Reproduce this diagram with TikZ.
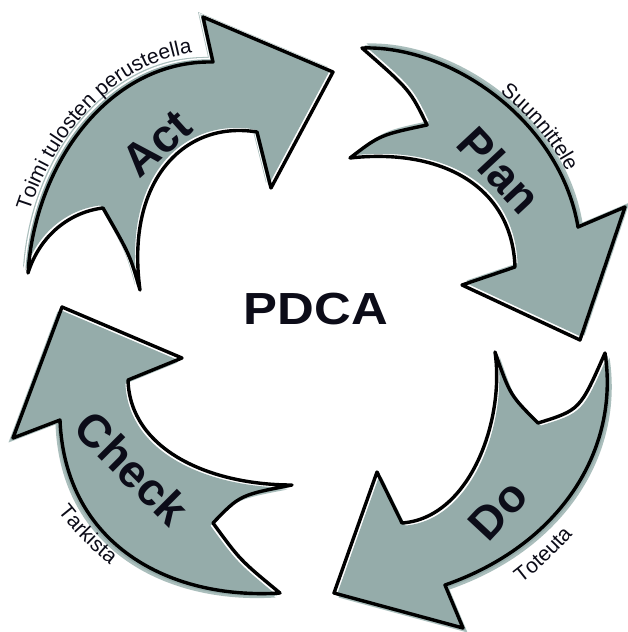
\documentclass[tikz,border=0pt]{standalone}
\usepackage{fontspec}
\setmainfont{Liberation Sans}
\usetikzlibrary{decorations.text}
\definecolor{arrowteal}{RGB}{149,172,170}
\definecolor{shadowteal}{RGB}{170,190,188}
\definecolor{inkcol}{RGB}{12,12,24}
\newcommand\smalllabelfont{\fontsize{21}{21}\selectfont}
\newcommand\actarrow[1]{\path[#1] (28,273) .. controls (35,163) and (110,60) .. (213,62) -- (203,17) -- (333,72) -- (271,188) -- (257,132) .. controls (185,120) and (125,180) .. (140,290) .. controls (130,255) .. (103,208) .. controls (70,212) and (40,235) .. (28,273) -- cycle;}
\newcommand\planarrow[1]{\path[#1] (362,48) .. controls (450,45) and (560,120) .. (578,227) -- (625,207) -- (580,340) -- (462,285) -- (515,267) .. controls (512,185) and (440,148) .. (350,158) .. controls (380,135) .. (427,125) .. controls (410,90) .. (362,48) -- cycle;}
\newcommand\doarrow[1]{\path[#1] (605,353) .. controls (620,450) and (560,545) .. (445,585) -- (463,628) -- (334,593) -- (377,472) -- (402,523) .. controls (470,518) and (505,420) .. (495,352) .. controls (510,395) .. (538,423) .. controls (580,410) .. (605,353) -- cycle;}
\newcommand\checkarrow[1]{\path[#1] (60,420) .. controls (65,545) and (170,600) .. (280,593) .. controls (240,560) .. (213,523) .. controls (240,495) .. (292,485) .. controls (210,485) and (130,450) .. (128,380) -- (182,358) -- (62,307) -- (13,438) -- cycle;}
\begin{document}
\begin{tikzpicture}[x=1pt,y=-1pt,
  arrowshadow/.style={fill=shadowteal},
  arrowfill/.style={fill=arrowteal},
  arrowline/.style={draw=black, line width=3.4pt, line join=round},
  biglabel/.style={font=\fontsize{46}{46}\selectfont\bfseries, text=inkcol, inner sep=0pt}
]
\useasboundingbox (0,0) rectangle (627,632);
% Act
\actarrow{arrowshadow, shift={(-5,-5)}}
\actarrow{fill=white, shift={(-4,-4)}}
\actarrow{arrowfill, shift={(-2.6,-2.6)}}
\actarrow{arrowline}
% Plan
\planarrow{arrowshadow, shift={(4.5,-4.5)}}
\planarrow{arrowfill, shift={(2.6,-2.6)}}
\planarrow{arrowline}
% Do
\doarrow{arrowshadow, shift={(4.5,4.5)}}
\doarrow{arrowfill, shift={(2.6,2.6)}}
\doarrow{arrowline}
% Check
\checkarrow{arrowshadow, shift={(-4.5,4.5)}}
\checkarrow{arrowfill, shift={(-2.6,2.6)}}
\checkarrow{arrowline}
% big labels
\node[biglabel, rotate=42] (act) at (157,143) {Act};
\node[biglabel, rotate=-47] (plan) at (500,170) {Plan};
\node[biglabel, rotate=47] (do) at (498,510) {Do};
\node[biglabel, rotate=-45] (check) at (132,468) {Check};
\node[font=\fontsize{45}{45}\selectfont\bfseries, text=inkcol, inner sep=0pt] (pdca) at (316,309) {\scalebox{1.13}[1]{PDCA}};
% curved small labels
\path[decorate, decoration={text along path, text color=inkcol, text align={left indent=62pt}, text={|\smalllabelfont|Toimi tulosten perusteella}}]
  (18,272.5) .. controls (25,162) and (110,50) .. (213,52);
\path[decorate, decoration={text along path, text color=inkcol, text align={left indent=150pt}, text={|\smalllabelfont|Suunnittele}}]
  (362,41) .. controls (450,38) and (567,119) .. (585,226);
\path[decorate, decoration={text along path, text color=inkcol, text={|\smalllabelfont|Toteuta}}]
  (521.2,583.3) .. controls (556.8,556) and (586.8,521.9) .. (609.2,483);
\path[decorate, decoration={text along path, text color=inkcol, text={|\smalllabelfont|Tarkista}}]
  (57.7,511.5) .. controls (85.7,547.3) and (120.8,576.8) .. (160.9,598.1);
\end{tikzpicture}
\end{document}
